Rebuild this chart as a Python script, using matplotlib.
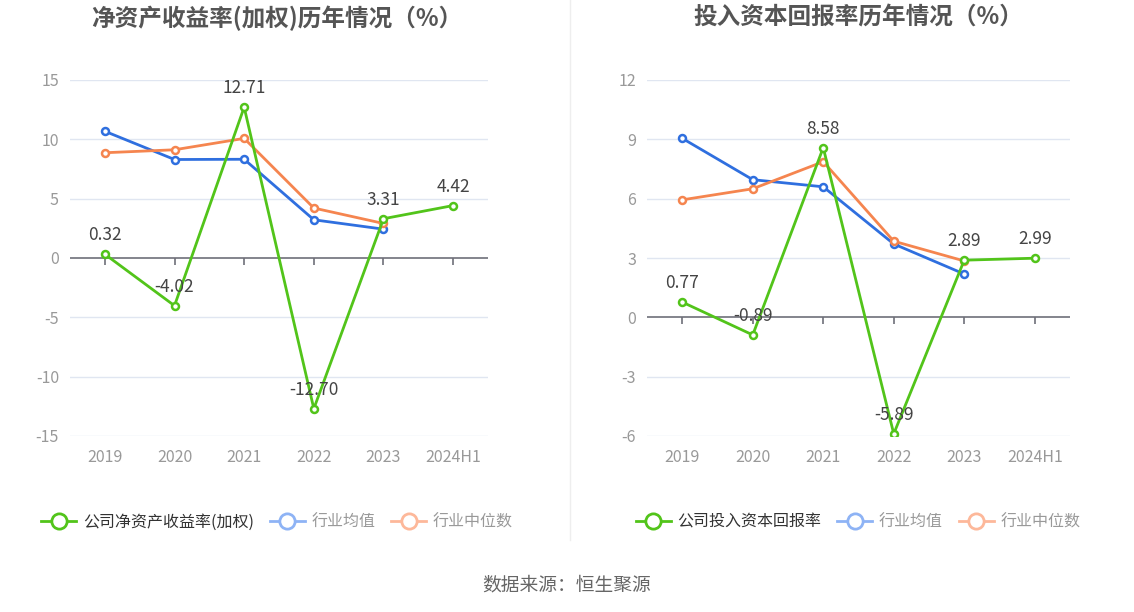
import matplotlib
matplotlib.use("Agg")
import matplotlib.pyplot as plt
from matplotlib.lines import Line2D
from matplotlib import markers

plt.rcParams['font.family'] = ['Noto Sans CJK SC', 'DejaVu Sans']
plt.rcParams['axes.unicode_minus'] = False

years = ["2019", "2020", "2021", "2022", "2023", "2024H1"]

# 净资产收益率(加权)
roe_company = [0.32, -4.02, 12.71, -12.70, 3.31, 4.42]
roe_avg = [10.68, 8.30, 8.32, 3.22, 2.43]
roe_median = [8.87, 9.12, 10.08, 4.21, 2.91]

# 投入资本回报率
roic_company = [0.77, -0.89, 8.58, -5.89, 2.89, 2.99]
roic_avg = [9.05, 6.96, 6.60, 3.71, 2.19]
roic_median = [5.94, 6.50, 7.87, 3.85, 2.85]

GREEN = "#52c41a"
BLUE = "#2f6fdf"
ORANGE = "#f5854f"
W, H = 1134, 612


def make_axes(left, right, top, bottom):
    return fig.add_axes([left / W, (H - bottom) / H, (right - left) / W, (bottom - top) / H])


def draw(ax, company, avg, median, ylim, step, title, legend_name, cx):
    x = list(range(len(years)))
    ax.set_xlim(-0.5, len(years) - 0.5)
    ax.set_ylim(*ylim)
    yt = list(range(ylim[0], ylim[1] + 1, step))
    ax.set_yticks(yt)
    ax.set_yticklabels([str(v) for v in yt])
    for v in yt:
        if v == 0:
            ax.axhline(0, color="#6e7079", lw=1.2, zorder=1)
        else:
            ax.axhline(v, color="#e0e6f1", lw=1, zorder=0)
    for s in ax.spines.values():
        s.set_visible(False)
    ax.set_xticks(x)
    ax.set_xticklabels(years)
    ax.tick_params(axis="x", length=0, pad=9, labelsize=11.5, colors="#999999")
    ax.tick_params(axis="y", length=0, pad=8, labelsize=11.5, colors="#999999")
    ax.plot(x, [0] * len(x), ls="none", marker=markers.TICKDOWN, ms=5, mew=1.2,
            color="#6e7079", zorder=1)

    kw = dict(lw=2, marker="o", ms=5, mfc="white", mew=1.8, zorder=3)
    ax.plot(x[:len(avg)], avg, color=BLUE, **kw)
    ax.plot(x[:len(median)], median, color=ORANGE, **kw)
    ax.plot(x, company, color=GREEN, **kw)
    for i, v in enumerate(company):
        ax.annotate(f"{v:.2f}", (i, v), xytext=(0, 7), textcoords="offset points",
                    ha="center", va="bottom", fontsize=12.5, color="#444444", zorder=5)

    fig.text(cx / W, 1 - 18 / H, title, ha="center", va="center", fontsize=17,
             fontweight="bold", color="#555555")

    handles = [
        Line2D([], [], color=GREEN, lw=2, marker="o", ms=11, mfc="white", mew=2),
        Line2D([], [], color="#8eb3f5", lw=2, marker="o", ms=11, mfc="white", mew=2),
        Line2D([], [], color="#fdb89a", lw=2, marker="o", ms=11, mfc="white", mew=2),
    ]
    leg = fig.legend(handles, [legend_name, "行业均值", "行业中位数"], loc="center",
                     bbox_to_anchor=(cx / W, 1 - 522 / H), ncol=3, frameon=False,
                     fontsize=11.5, handlelength=2.2, handletextpad=0.4, columnspacing=1.0)
    cols = ["#333333", "#999999", "#999999"]
    for t, c in zip(leg.get_texts(), cols):
        t.set_color(c)


fig = plt.figure(figsize=(W / 100, H / 100), dpi=100)

ax1 = make_axes(70, 488, 80, 436)
draw(ax1, roe_company, roe_avg, roe_median, (-15, 15), 5,
     "净资产收益率(加权)历年情况（%）", "公司净资产收益率(加权)", 277)

ax2 = make_axes(647, 1070, 80, 436)
draw(ax2, roic_company, roic_avg, roic_median, (-6, 12), 3,
     "投入资本回报率历年情况（%）", "公司投入资本回报率", 858)

fig.add_artist(Line2D([570 / W, 570 / W], [1 - 540 / H, 1], color="#eeeeee", lw=1))
fig.text(567 / W, 1 - 585 / H, "数据来源：恒生聚源", ha="center", va="center",
         fontsize=13.5, color="#666666")

fig.savefig("out.png", dpi=100)
